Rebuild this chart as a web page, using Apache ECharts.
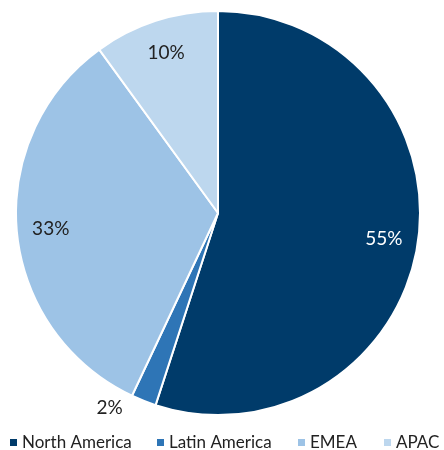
<!DOCTYPE html>
<html>
<head>
<meta charset="utf-8">
<script src="https://cdn.jsdelivr.net/npm/echarts@6/dist/echarts.min.js"></script>
<style>
  html, body { margin: 0; padding: 0; background: #fff; }
  #chart { width: 444px; height: 450px; }
</style>
</head>
<body>
<div id="chart"></div>
<script>
// Revenue share by region
const regions = ['North America', 'Latin America', 'EMEA', 'APAC'];
const shares = [55, 2, 33, 10];
const colors = ['#003B6A', '#2E75B6', '#9DC3E6', '#BDD7EE'];

// Left offsets of the legend entries along the bottom row
const legendLefts = [10, 157, 298, 384];

const labelFont = { fontFamily: 'Lato', fontSize: 19, color: '#222' };
const pct = p => p.value + '%';

// Slices: only the thin one carries an outside label
const sliceData = regions.map((name, i) => ({
  name,
  value: shares[i],
  label: { show: shares[i] < 5 }
}));

// Transparent ring whose inside labels sit near the rim of each slice
const ringData = regions.map((name, i) => ({
  name,
  value: shares[i],
  label: { show: shares[i] >= 5, color: i === 0 ? '#fff' : '#222' }
}));

// One legend per entry so the row never wraps
const legends = regions.map((name, i) => ({
  data: [name],
  top: 434,
  left: legendLefts[i],
  padding: 0,
  itemWidth: 7,
  itemHeight: 7,
  icon: 'rect',
  itemStyle: { borderWidth: 0 },
  textStyle: { fontFamily: 'Lato', fontSize: 17, color: '#222' }
}));

const chart = echarts.init(document.getElementById('chart'));
chart.setOption({
  animation: false,
  color: colors,
  legend: legends,
  series: [
    {
      type: 'pie',
      center: [218, 213],
      radius: 202,
      startAngle: 90,
      clockwise: true,
      avoidLabelOverlap: false,
      data: sliceData,
      label: Object.assign({ position: 'outside', formatter: pct }, labelFont),
      labelLine: { show: false, length: 8, length2: 13 },
      itemStyle: { borderColor: '#fff', borderWidth: 2 },
      emphasis: { disabled: true }
    },
    {
      type: 'pie',
      center: [218, 213],
      radius: [130, 200],
      startAngle: 90,
      clockwise: true,
      silent: true,
      data: ringData,
      itemStyle: { color: 'rgba(0,0,0,0)' },
      emphasis: { disabled: true },
      label: Object.assign({ position: 'inside', formatter: pct }, labelFont)
    }
  ]
});
</script>
</body>
</html>
